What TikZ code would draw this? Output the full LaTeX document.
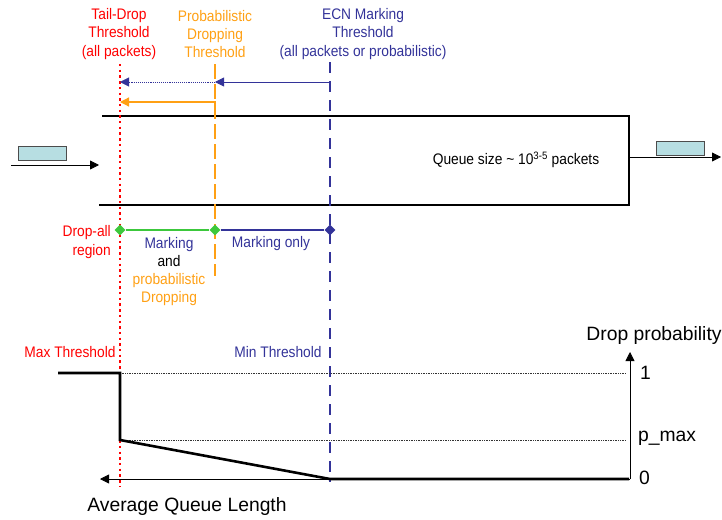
\documentclass[tikz,border=0pt]{standalone}
\usepackage{fontspec}
\setmainfont[FakeStretch=0.9]{Liberation Sans}
\newfontfamily\plainsf{Liberation Sans}
\usetikzlibrary{arrows.meta,shapes.geometric}
\definecolor{cred}{RGB}{255,0,0}
\definecolor{corange}{RGB}{255,160,20}
\definecolor{cblue}{RGB}{51,51,153}
\definecolor{cgreen}{RGB}{60,200,60}
\definecolor{cpkt}{RGB}{183,222,226}
\tikzset{
  lbl/.style={inner sep=0pt,align=center,font=\fontsize{15.3}{18.2}\selectfont},
  big/.style={inner sep=0pt,font=\plainsf\fontsize{19.3}{22}\selectfont},
  pkt/.style={draw=black!70,fill=cpkt,line width=0.8pt,minimum width=48pt,minimum height=14pt,inner sep=0pt},
  dia/.style={diamond,minimum size=11pt,inner sep=0pt},
  gridline/.style={densely dotted,line width=0.7pt,black!80},
  ar/.style={-{Triangle[length=9pt,width=9pt]}}
}
\begin{document}
\begin{tikzpicture}[x=1pt,y=-1pt]
\useasboundingbox (0,0) rectangle (722,519);
% threshold labels
\node[lbl,text=cred] (tdl) at (119,34) {Tail-Drop\\Threshold\\(all packets)};
\node[lbl,text=corange] (pdl) at (215,34) {Probabilistic\\Dropping\\Threshold};
\node[lbl,text=cblue] (ecl) at (363,34) {ECN Marking\\Threshold\\(all packets or probabilistic)};
% threshold coordinates
\coordinate (rTop) at (120,64);
\coordinate (rBot) at (120,486);
\coordinate (oTop) at (215,64);
\coordinate (oBot) at (215,276);
\coordinate (bTop) at (330,62);
\coordinate (bBot) at (330,482);
% queue
\coordinate (qTL) at (102,116);
\coordinate (qTR) at (629,116);
\coordinate (qBR) at (629,205);
\coordinate (qBL) at (99,205);
\draw[line width=2.6pt,line join=miter] (qTL) -- (qTR) -- (qBR) -- (qBL);
\node[lbl] (qs) at (516,160) {Queue size \textasciitilde{} 10\textsuperscript{3-5} packets};
% packets
\node[pkt] (p1) at (42,153.5) {};
\coordinate (a1s) at (11,165);
\coordinate (a1e) at (99,165);
\draw[ar,line width=0.8pt] (a1s) -- (a1e);
\node[pkt] (p2) at (680.5,148) {};
\coordinate (a2s) at (629,157);
\coordinate (a2e) at (721,157);
\draw[ar,line width=0.8pt] (a2s) -- (a2e);
% threshold lines
\draw[cred,line width=2.4pt,dash pattern=on 2.4pt off 3.3pt] (rTop) -- (rBot);
\draw[corange,line width=2pt,dash pattern=on 14.5pt off 5.5pt] (oTop) -- (oBot);
\draw[cblue,line width=2.8pt,dash pattern=on 11pt off 8pt] (bTop) -- (bBot);
% arrows at top
\coordinate (bA) at (330,82);
\coordinate (oA) at (215,82);
\coordinate (rA) at (120,82);
\coordinate (rA2) at (128,82);
\draw[cblue,line width=0.9pt,ar] (bA) -- (oA);
\draw[cblue,line width=0.9pt,densely dotted] (oA) -- (rA2);
\draw[cblue,ar] (rA2) -- (rA);
\coordinate (oB1) at (215,116);
\coordinate (oB2) at (215,102);
\coordinate (rB) at (120,102);
\draw[corange,line width=1.2pt,ar] (oB1) -- (oB2) -- (rB);
% regions
\node[dia,fill=cgreen] (d1) at (120,230) {};
\node[dia,fill=cgreen] (d2) at (215,230) {};
\node[dia,fill=cblue] (d3) at (330,230) {};
\draw[cgreen,line width=1.2pt] (d1) -- (d2);
\draw[cblue,line width=1.2pt] (d2) -- (d3);
\node[lbl,text=cred,anchor=east,align=right] (dar) at (111,242) {Drop-all\\region};
\node[lbl,anchor=north] (mk) at (169,237) {\textcolor{cblue}{Marking}\\and\\\textcolor{corange}{probabilistic}\\\textcolor{corange}{Dropping}};
\node[lbl,text=cblue] (mo) at (271,244) {Marking only};
% graph
\coordinate (yB) at (630,479);
\coordinate (yT) at (630,352);
\coordinate (xL) at (100,479);
\draw[line width=0.8pt,ar] (yB) -- (yT);
\draw[line width=0.8pt,ar] (yB) -- (xL);
\node[big] (dp) at (654,336) {Drop probability};
\node[big,anchor=west] (l1) at (640,373) {1};
\node[big,anchor=west] (lp) at (638,438) {p\_max};
\node[big,anchor=west] (l0) at (639,478) {0};
\coordinate (g1a) at (120,373);
\coordinate (g1b) at (626,373);
\coordinate (g2a) at (120,440);
\coordinate (g2b) at (626,440);
\draw[gridline] (g1a) -- (g1b);
\draw[gridline] (g2a) -- (g2b);
\coordinate (c0) at (58,373);
\coordinate (c1) at (120,373);
\coordinate (c2) at (120,440);
\coordinate (c3) at (330,479);
\coordinate (c4) at (629,479);
\draw[line width=2.6pt,line join=miter] (c0) -- (c1) -- (c2) -- (c3) -- (c4);
\node[lbl,text=cred] (mxt) at (70,352) {Max Threshold};
\node[lbl,text=cblue] (mnt) at (278,352) {Min Threshold};
\node[big] (aql) at (187,507) {Average Queue Length};
\end{tikzpicture}
\end{document}
